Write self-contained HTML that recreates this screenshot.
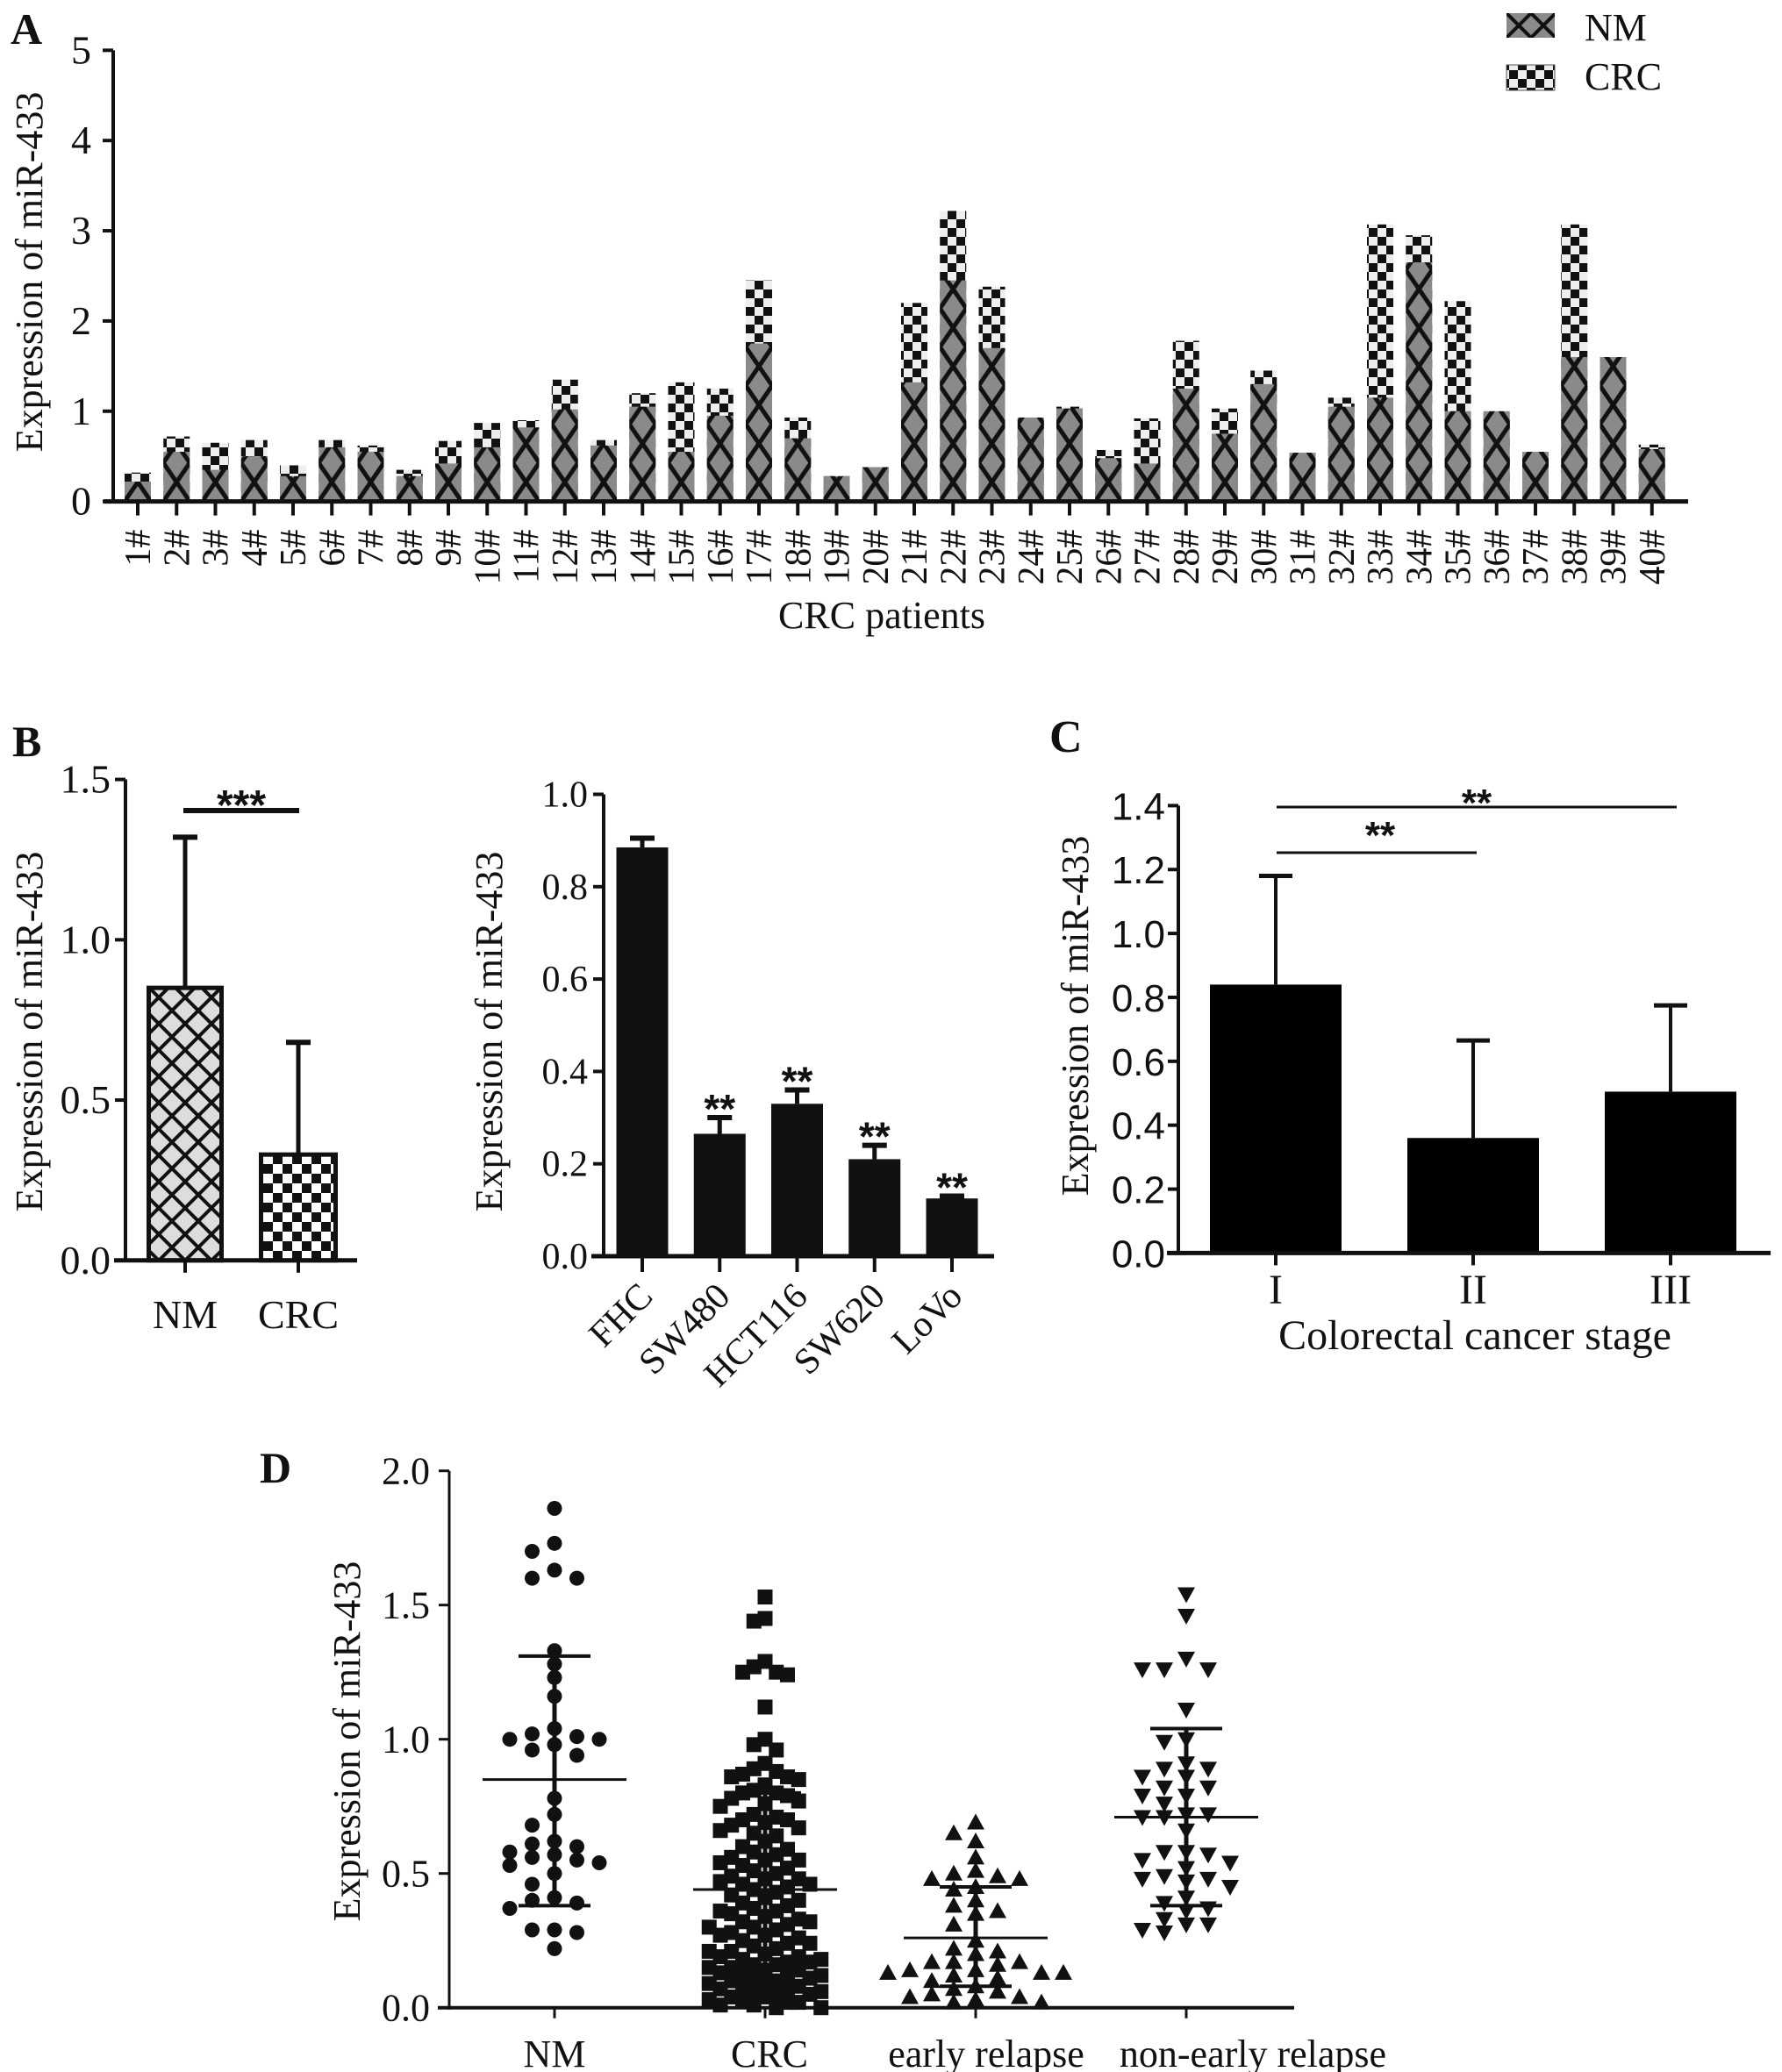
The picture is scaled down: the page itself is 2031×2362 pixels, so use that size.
<!DOCTYPE html>
<html><head><meta charset="utf-8"><style>
html,body{margin:0;padding:0;background:#fff;}
svg{display:block;}
text{font-family:"Liberation Serif",serif;fill:#111;}
.sans{font-family:"Liberation Sans",sans-serif;}
</style></head><body>
<svg id="fig" width="2031" height="2362" viewBox="0 0 2031 2362" xmlns="http://www.w3.org/2000/svg">
<defs id="defs">
<pattern id="chk" patternUnits="userSpaceOnUse" width="20" height="20"><rect width="20" height="20" fill="#eee"/><rect width="10" height="10" fill="#111"/><rect x="10" y="10" width="10" height="10" fill="#111"/></pattern>
<pattern id="chkB" patternUnits="userSpaceOnUse" x="300" y="1437" width="22" height="22"><rect width="22" height="22" fill="#fff"/><rect width="11" height="11" fill="#111"/><rect x="11" y="11" width="11" height="11" fill="#111"/></pattern>
<pattern id="diaB" patternUnits="userSpaceOnUse" x="211" y="1437" width="30" height="30"><rect width="30" height="30" fill="#ddd"/><path d="M0 0L30 30M30 0L0 30" stroke="#111" stroke-width="4"/></pattern>
<pattern id="legX" patternUnits="userSpaceOnUse" x="1717" y="15" width="28" height="28"><rect width="28" height="28" fill="#8a8a8a"/><path d="M0 0L28 28M28 0L0 28" stroke="#111" stroke-width="4"/></pattern>
</defs>
<g id="A"></g>
<g id="B1"></g>
<g id="B2"></g>
<g id="C"></g>
<g id="D"></g>
</svg>
<script>
// ---------- data ----------
const aCats = ['1#','2#','3#','4#','5#','6#','7#','8#','9#','10#','11#','12#','13#','14#','15#','16#','17#','18#','19#','20#','21#','22#','23#','24#','25#','26#','27#','28#','29#','30#','31#','32#','33#','34#','35#','36#','37#','38#','39#','40#'];
const aNM = [0.22,0.55,0.35,0.50,0.28,0.60,0.55,0.28,0.42,0.60,0.82,1.02,0.62,1.05,0.55,0.95,1.75,0.70,0.28,0.38,1.32,2.45,1.70,0.93,1.03,0.48,0.42,1.25,0.75,1.30,0.54,1.05,1.15,2.65,1.00,1.00,0.55,1.60,1.60,0.58];
const aCRC = [0.32,0.72,0.65,0.68,0.40,0.68,0.62,0.35,0.67,0.87,0.90,1.35,0.68,1.20,1.32,1.25,2.45,0.93,0.28,0.38,2.20,3.22,2.38,0.90,1.05,0.57,0.92,1.78,1.03,1.45,0.52,1.15,3.07,2.95,2.22,0.98,0.53,3.07,1.58,0.63];
const aTicks = [0,1,2,3,4,5];

const b1Cats = ['NM','CRC'];
const b1Means = [0.85,0.33];
const b1ErrTop = [1.32,0.68];
const b1Ticks = ['0.0','0.5','1.0','1.5'];

const b2Cats = ['FHC','SW480','HCT116','SW620','LoVo'];
const b2Means = [0.885,0.265,0.33,0.21,0.125];
const b2ErrTop = [0.905,0.30,0.36,0.24,0.13];
const b2Stars = ['','**','**','**','**'];
const b2Ticks = ['0.0','0.2','0.4','0.6','0.8','1.0'];

const cCats = ['I','II','III'];
const cMeans = [0.84,0.36,0.505];
const cErrTop = [1.18,0.665,0.775];
const cTicks = ['0.0','0.2','0.4','0.6','0.8','1.0','1.2','1.4'];

const dCats = ['NM','CRC','early relapse','non-early relapse'];
const dNM = [1.86,1.73,1.70,1.63,1.60,1.60,1.33,1.28,1.23,1.16,1.04,1.02,1.01,1.00,1.00,0.98,0.96,0.94,0.78,0.72,0.68,0.62,0.61,0.60,0.58,0.57,0.55,0.56,0.54,0.53,0.50,0.46,0.41,0.39,0.40,0.37,0.29,0.28,0.29,0.22];
const dCRC = [1.53,1.45,1.44,1.29,1.27,1.25,1.25,1.24,1.12,1.00,0.98,0.96,
0.91,0.89,0.88,0.87,0.86,0.86,0.85,0.83,0.81,0.80,0.80,0.79,0.78,0.77,0.76,0.75,0.72,0.71,0.70,0.70,0.69,0.68,0.67,0.66,0.65,0.64,0.62,
0.60,0.59,0.58,0.57,0.56,0.55,0.55,0.54,0.53,0.52,0.51,0.50,0.49,0.48,0.48,0.47,0.46,0.46,0.45,0.44,0.43,0.42,0.41,0.40,
0.39,0.38,0.37,0.36,0.36,0.35,0.34,0.33,0.32,0.32,0.31,0.30,0.30,0.29,0.28,0.27,0.27,0.26,0.25,0.24,0.24,0.23,0.22,0.21,0.21,0.20,
0.19,0.19,0.18,0.18,0.17,0.17,0.16,0.16,0.15,0.15,0.14,0.14,0.13,0.13,0.12,0.12,0.11,0.11,0.10,0.10,0.09,0.09,0.08,0.08,0.07,0.07,0.06,0.06,0.05,0.05,0.04,0.04,0.03,0.03,0.02,0.02,0.01,0.01,0.00,0.00];
const dEarly = [0.69,0.65,0.62,0.56,0.49,0.50,0.48,0.48,0.51,0.44,0.45,0.38,0.35,0.31,0.25,0.22,0.21,0.20,0.17,0.17,0.17,0.16,0.14,0.13,0.13,0.14,0.13,0.12,0.11,0.10,0.08,0.07,0.06,0.05,0.04,0.03,0.02,0.02,0.04,0.40,0.36];
const dNon = [1.54,1.46,1.30,1.26,1.26,1.26,1.11,1.00,0.99,0.91,0.89,0.89,0.86,0.86,0.82,0.82,0.79,0.79,0.76,0.72,0.72,0.71,0.71,0.66,0.58,0.58,0.57,0.55,0.54,0.52,0.48,0.48,0.47,0.49,0.45,0.41,0.39,0.37,0.36,0.33,0.31,0.31,0.29,0.28];
const dMeans = [0.85,0.44,0.26,0.71];
const dSdLo = [0.38,0.08,0.08,0.38];
const dSdHi = [1.31,0.80,0.45,1.04];
const dTicks = ['0.0','0.5','1.0','1.5','2.0'];

// ---------- helpers ----------
const NS='http://www.w3.org/2000/svg';
function mk(parent, tag, attrs, txt){
  const e=document.createElementNS(NS,tag);
  for(const k in attrs) e.setAttribute(k, attrs[k]);
  if(txt!==undefined) e.textContent=txt;
  parent.appendChild(e);
  return e;
}
function line(p,x1,y1,x2,y2,w){return mk(p,'line',{x1:x1,y1:y1,x2:x2,y2:y2,stroke:'#111','stroke-width':w||4});}
const defs=document.getElementById('defs');

// ---------- Panel A ----------
(function(){
  const g=document.getElementById('A');
  const y0=571.6, k=102.85;
  const yA=v=>y0-v*k;
  const xA=i=>157+i*44.25;
  const bw=30;
  let t=mk(g,'text',{x:12,y:50,'font-size':50,'font-weight':'bold'},'A');
  
  
  aCats.forEach((c,i)=>{
    const x=xA(i)-bw/2;
    const pat=mk(defs,'pattern',{id:'xh'+i,patternUnits:'userSpaceOnUse',x:x,y:y0,width:30,height:44});
    mk(pat,'rect',{width:30,height:44,fill:'#8a8a8a'});
    mk(pat,'path',{d:'M0 0L30 44M30 0L0 44',stroke:'#111','stroke-width':5});
    const crc=mk(g,'rect',{x:x,y:yA(aCRC[i]),width:bw,height:aCRC[i]*k,fill:'url(#chk)'});
    
    
    const nm=mk(g,'rect',{x:x,y:yA(aNM[i]),width:bw,height:aNM[i]*k,fill:'url(#xh'+i+')'});
    
    
    line(g,xA(i),y0,xA(i),y0+16,4);
    const lb=mk(g,'text',{x:0,y:0,'font-size':42,'text-anchor':'end',transform:'translate('+(xA(i)+14)+','+(y0+32)+') rotate(-90)'},c);
    
    
  });
  line(g,129,y0,129,yA(5),4);
  line(g,118,y0,1924,y0,5);
  aTicks.forEach(v=>{
    line(g,117,yA(v),129,yA(v),4);
    const tl=mk(g,'text',{x:104,y:yA(v)+15,'font-size':46,'text-anchor':'end'},String(v));
    
    
  });
  t=mk(g,'text',{x:0,y:0,'font-size':44,'text-anchor':'middle',transform:'translate(48,310) rotate(-90)'},'Expression of miR-433');
  
  
  t=mk(g,'text',{x:1005,y:716,'font-size':44,'text-anchor':'middle'},'CRC patients');
  
  
  let s=mk(g,'rect',{x:1717,y:15,width:55,height:28,fill:'url(#legX)'});
  
  
  s=mk(g,'rect',{x:1717,y:74,width:55,height:29,fill:'url(#chk)',stroke:'#555','stroke-width':1});
  
  
  t=mk(g,'text',{x:1806,y:46,'font-size':44},'NM');
  
  
  t=mk(g,'text',{x:1806,y:102,'font-size':44},'CRC');
  
  
})();

// ---------- Panel B1 ----------
(function(){
  const g=document.getElementById('B1');
  const y0=1436.8, k=365.5;
  const yB=v=>y0-v*k;
  const cx=[211,340], bw=[88,90], fills=['url(#diaB)','url(#chkB)'];
  let t=mk(g,'text',{x:14,y:862,'font-size':50,'font-weight':'bold'},'B');
  
  
  b1Cats.forEach((c,i)=>{
    line(g,cx[i],yB(b1Means[i]),cx[i],yB(b1ErrTop[i]),5);
    line(g,cx[i]-14,yB(b1ErrTop[i]),cx[i]+14,yB(b1ErrTop[i]),6);
    const r=mk(g,'rect',{x:cx[i]-bw[i]/2+2.5,y:yB(b1Means[i]),width:bw[i]-5,height:b1Means[i]*k,fill:fills[i],stroke:'#111','stroke-width':5});
    
    
    line(g,cx[i],y0,cx[i],y0+14,4);
    const l=mk(g,'text',{x:cx[i],y:1514,'font-size':46,'text-anchor':'middle'},c);
    
    
  });
  line(g,143,y0+2,143,yB(1.5),4);
  line(g,130,y0,407,y0,5);
  b1Ticks.forEach(v=>{
    line(g,131,yB(+v),143,yB(+v),4);
    const l=mk(g,'text',{x:126,y:yB(+v)+15,'font-size':46,'text-anchor':'end'},v);
    
    
  });
  line(g,209,924,341,924,6);
  t=mk(g,'text',{x:275,y:934,'font-size':48,'text-anchor':'middle','font-weight':'bold',class:'sans'},'***');
  
  
  t=mk(g,'text',{x:0,y:0,'font-size':44,'text-anchor':'middle',transform:'translate(48,1176) rotate(-90)'},'Expression of miR-433');
  
  
})();

// ---------- Panel B2 ----------
(function(){
  const g=document.getElementById('B2');
  const y0=1432, k=526.5;
  const yB=v=>y0-v*k;
  const xB=i=>732+i*88.25;
  const bw=59;
  b2Cats.forEach((c,i)=>{
    line(g,xB(i),yB(b2Means[i]),xB(i),yB(b2ErrTop[i]),5);
    line(g,xB(i)-14,yB(b2ErrTop[i]),xB(i)+14,yB(b2ErrTop[i]),6);
    const r=mk(g,'rect',{x:xB(i)-bw/2,y:yB(b2Means[i]),width:bw,height:b2Means[i]*k,fill:'#111'});
    
    
    if(b2Stars[i]){
      const s=mk(g,'text',{x:xB(i),y:yB(b2ErrTop[i])+6,'font-size':46,'text-anchor':'middle','font-weight':'bold',class:'sans'},b2Stars[i]);
      
      
    }
    line(g,xB(i),y0,xB(i),y0+18,4);
    const l=mk(g,'text',{x:0,y:0,'font-size':42,'text-anchor':'end',transform:'translate('+(xB(i)+14)+',1480) rotate(-45)'},c);
    
    
  });
  line(g,688,y0+2,688,yB(1.0),4);
  line(g,674,y0,1133,y0,5);
  b2Ticks.forEach(v=>{
    line(g,676,yB(+v),688,yB(+v),4);
    const l=mk(g,'text',{x:670,y:yB(+v)+14,'font-size':42,'text-anchor':'end'},v);
    
    
  });
  const t=mk(g,'text',{x:0,y:0,'font-size':44,'text-anchor':'middle',transform:'translate(572,1176) rotate(-90)'},'Expression of miR-433');
  
  
})();

// ---------- Panel C ----------
(function(){
  const g=document.getElementById('C');
  const y0=1428.4, k=364.3;
  const yC=v=>y0-v*k;
  const xC=i=>1454+i*225;
  const bw=150;
  let t=mk(g,'text',{x:1196,y:857,'font-size':52,'font-weight':'bold'},'C');
  
  
  cCats.forEach((c,i)=>{
    line(g,xC(i),yC(cMeans[i]),xC(i),yC(cErrTop[i]),4);
    line(g,xC(i)-19,yC(cErrTop[i]),xC(i)+19,yC(cErrTop[i]),5);
    const r=mk(g,'rect',{x:xC(i)-bw/2,y:yC(cMeans[i]),width:bw,height:cMeans[i]*k,fill:'#000'});
    
    
    line(g,xC(i),y0,xC(i),y0+14,4);
    const l=mk(g,'text',{x:xC(i),y:1486,'font-size':48,'text-anchor':'middle'},c);
    
    
  });
  line(g,1343,y0+2,1343,yC(1.4),4);
  line(g,1330,y0,2018,y0,5);
  cTicks.forEach(v=>{
    line(g,1331,yC(+v),1343,yC(+v),4);
    const l=mk(g,'text',{x:1328,y:yC(+v)+16,'font-size':44,'text-anchor':'end',class:'sans'},v);
    
    
  });
  line(g,1455,920,1911,920,3);
  line(g,1455,972,1683,972,3);
  t=mk(g,'text',{x:1683,y:930,'font-size':44,'text-anchor':'middle','font-weight':'bold',class:'sans'},'**');
  
  
  t=mk(g,'text',{x:1573,y:967,'font-size':44,'text-anchor':'middle','font-weight':'bold',class:'sans'},'**');
  
  
  t=mk(g,'text',{x:1681,y:1538,'font-size':48,'text-anchor':'middle'},'Colorectal cancer stage');
  
  
  t=mk(g,'text',{x:0,y:0,'font-size':44,'text-anchor':'middle',transform:'translate(1240,1158) rotate(-90)'},'Expression of miR-433');
  
  
})();

// ---------- Panel D ----------
(function(){
  const g=document.getElementById('D');
  const y0=2288.7, k=306;
  const yD=v=>y0-v*k;
  const xD=i=>632+i*240;
  let t=mk(g,'text',{x:296,y:1690,'font-size':50,'font-weight':'bold'},'D');
  
  
  function swarm(vals,cx,step,maxc,sz,thr){
    const sorted=vals.slice().sort((a,b)=>b-a);
    const placed=[];
    const order=[0];
    for(let c=1;c<=maxc;c++){order.push(-c);order.push(c);}
    sorted.forEach(v=>{
      const y=yD(v);
      let best=order[0], bestD=-1, chosen=null;
      for(const o of order){
        let md=1e9;
        placed.forEach(p=>{ if(Math.abs((p.c-o)*step)<sz){ md=Math.min(md,Math.abs(p.y-y)); } });
        if(md>=thr){chosen=o;break;}
        if(md>bestD){bestD=md;best=o;}
      }
      placed.push({c:chosen!==null?chosen:best,y:y});
    });
    return placed.map(p=>({x:cx+p.c*step,y:p.y}));
  }
  const groups=[dNM,dCRC,dEarly,dNon];
  const steps=[25.5,12.75,25,25];
  const maxc=[3,5,4,4];
  const szs=[16,12,16,16];
  const thrs=[15,19,15,15];
  const shapes=['circle','square','up','down'];
  groups.forEach((vals,gi)=>{
    const pts=swarm(vals,xD(gi),steps[gi],maxc[gi],szs[gi],thrs[gi]);
    pts.forEach(p=>{
      let e;
      if(shapes[gi]==='circle') e=mk(g,'circle',{cx:p.x,cy:p.y,r:8.5,fill:'#111'});
      else if(shapes[gi]==='square') e=mk(g,'rect',{x:p.x-8.5,y:p.y-8.5,width:17,height:17,fill:'#111'});
      else if(shapes[gi]==='up') e=mk(g,'path',{d:'M'+p.x+' '+(p.y-10)+'L'+(p.x+10)+' '+(p.y+8)+'L'+(p.x-10)+' '+(p.y+8)+'Z',fill:'#111'});
      else e=mk(g,'path',{d:'M'+p.x+' '+(p.y+10)+'L'+(p.x+10)+' '+(p.y-8)+'L'+(p.x-10)+' '+(p.y-8)+'Z',fill:'#111'});
      
      
    });
  });
  const labelShift=[0,5,12,76];
  dCats.forEach((c,i)=>{
    const x=xD(i);
    line(g,x,yD(dSdLo[i]),x,yD(dSdHi[i]),5);
    line(g,x-41,yD(dSdHi[i]),x+41,yD(dSdHi[i]),4);
    line(g,x-41,yD(dSdLo[i]),x+41,yD(dSdLo[i]),4);
    const m=line(g,x-82,yD(dMeans[i]),x+82,yD(dMeans[i]),3);
    
    
    line(g,x,y0,x,y0+12,3);
    const l=mk(g,'text',{x:x+labelShift[i],y:2356,'font-size':44,'text-anchor':'middle'},c);
    
    
  });
  line(g,512,y0+2,512,yD(2.0),3);
  line(g,499,y0,1475,y0,4);
  dTicks.forEach(v=>{
    line(g,500,yD(+v),512,yD(+v),3);
    const l=mk(g,'text',{x:490,y:yD(+v)+15,'font-size':44,'text-anchor':'end'},v);
    
    
  });
  t=mk(g,'text',{x:0,y:0,'font-size':44,'text-anchor':'middle',transform:'translate(410,1985) rotate(-90)'},'Expression of miR-433');
  
  
})();
</script>
</body></html>
